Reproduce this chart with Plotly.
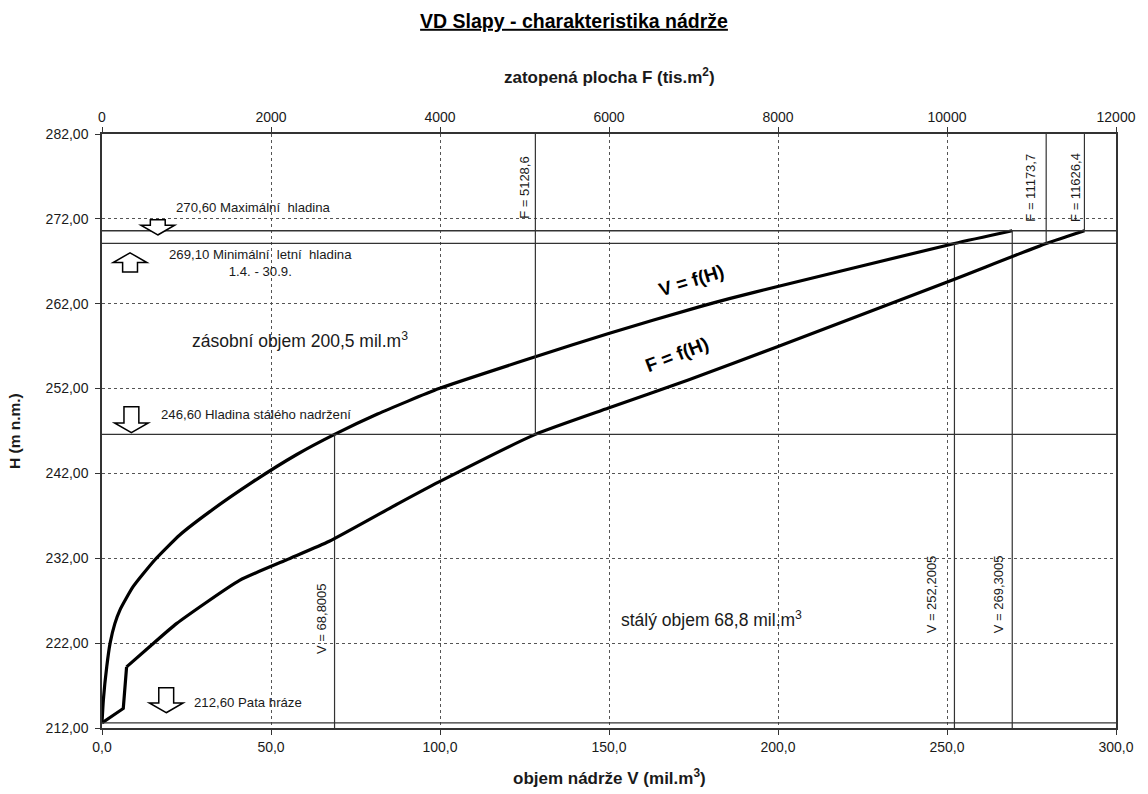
import plotly.graph_objects as go

# ---------------- data ----------------
H_range = [212, 282]
V_range = [0, 300]
F_range = [0, 12000]

# V = f(H): storage volume (mil. m3) vs level H (m n.m.)
V_H = [212.6, 215.3, 219.2, 222.0, 224.3, 225.9, 228.65, 231.8, 234.75, 237.5,
       241.0, 244.2, 246.6, 249.0, 252.0, 255.75, 258.5, 261.6, 262.6, 264.0, 269.1, 270.6]
V_val = [0.0, 0.4, 1.4, 2.4, 3.8, 5.3, 9.2, 15.6, 23.0, 31.9,
         44.6, 57.5, 68.8, 81.5, 99.7, 128.2, 149.9, 176.4, 185.6, 199.6, 252.2, 269.3]

# F = f(H): flooded area (tis. m2) vs level H
F_H = [212.6, 214.3, 219.2, 221.6, 224.3, 229.4, 231.8, 234.0, 238.5, 241.0,
       246.6, 249.7, 253.0, 256.9, 264.8, 269.1, 270.6]
F_val = [0, 252, 291, 566, 881, 1628, 2180, 2690, 3516, 3988,
         5128.6, 5994, 6938, 7985, 10065, 11173.7, 11626.4]

# characteristic levels
levels_H = [270.6, 269.1, 246.6, 212.6]
level_labels = ["270,60 Maximální  hladina",
                "269,10 Minimální  letní  hladina<br>1.4. - 30.9.",
                "246,60 Hladina stálého nadržení",
                "212,60 Pata hráze"]

# marker lines
F_marks = [5128.6, 11173.7, 11626.4]
F_mark_H = [246.6, 269.1, 270.6]
F_mark_labels = ["F = 5128,6", "F = 11173,7", "F = 11626,4"]
V_marks = [68.8005, 252.2005, 269.3005]
V_mark_H = [246.6, 269.1, 270.6]
V_mark_labels = ["V = 68,8005", "V = 252,2005", "V = 269,3005"]

vol_texts = ["zásobní objem 200,5 mil.m<sup>3</sup>", "stálý objem 68,8 mil.m<sup>3</sup>"]

# ---------------- styles / positions ----------------
FONT = "Arial, Liberation Sans, sans-serif"
INK = "#1a1a1a"
LINE = "#333333"
CURVE = dict(color="black", width=3.2)

fig = go.Figure()

# V curve (smooth)
fig.add_trace(go.Scatter(x=V_val, y=V_H, mode="lines", xaxis="x", yaxis="y",
                         line=dict(shape="spline", smoothing=0.5, **CURVE), hoverinfo="skip"))
# F curve: sharp-cornered foot (first 3 points) + smooth upper part
KINK = 2
fig.add_trace(go.Scatter(x=F_val[:KINK + 1], y=F_H[:KINK + 1], mode="lines", xaxis="x2", yaxis="y",
                         line=dict(shape="linear", **CURVE), hoverinfo="skip"))
fig.add_trace(go.Scatter(x=F_val[KINK:], y=F_H[KINK:], mode="lines", xaxis="x2", yaxis="y",
                         line=dict(shape="spline", smoothing=0.5, **CURVE), hoverinfo="skip"))

# vertical marker lines
for f, h in zip(F_marks, F_mark_H):
    fig.add_trace(go.Scatter(x=[f, f], y=[h, H_range[1]], mode="lines", xaxis="x2", yaxis="y",
                             line=dict(color=LINE, width=1.2), hoverinfo="skip"))
for v, h in zip(V_marks, V_mark_H):
    fig.add_trace(go.Scatter(x=[v, v], y=[H_range[0], h], mode="lines", xaxis="x", yaxis="y",
                             line=dict(color=LINE, width=1.2), hoverinfo="skip"))

shapes = []
for h in levels_H:
    shapes.append(dict(type="line", xref="x domain", x0=0, x1=1, yref="y", y0=h, y1=h,
                       line=dict(color=LINE, width=1.3), layer="above"))

# hollow block arrows (x centre in V units, tip H, total length in H, direction)
arrow_specs = [(16.5, 270.1, 1.8, -1), (8.3, 268.0, 2.25, 1), (8.7, 246.8, 3.05, -1), (19.0, 213.8, 2.95, -1)]
HEAD_HALF = 5.0
SHAFT_HALF = 2.2
HEAD_LEN = 1.15
for xc, tip, ln, d in arrow_specs:
    base = tip - d * HEAD_LEN
    tail = tip - d * ln
    pts = [(xc, tip), (xc + HEAD_HALF, base), (xc + SHAFT_HALF, base), (xc + SHAFT_HALF, tail),
           (xc - SHAFT_HALF, tail), (xc - SHAFT_HALF, base), (xc - HEAD_HALF, base)]
    path = "M " + " L ".join(f"{x},{y}" for x, y in pts) + " Z"
    shapes.append(dict(type="path", xref="x", yref="y", path=path,
                       line=dict(color="black", width=1.5), fillcolor="white", layer="above"))

annotations = []
lvl_pos = [(21.2, 273.3, "left"), (46.9, 266.8, "center"), (16.8, 248.9, "left"), (26.5, 214.95, "left")]
for (x, y, al), t in zip(lvl_pos, level_labels):
    annotations.append(dict(x=x, y=y, xref="x", yref="y", text=t, showarrow=False,
                            xanchor=al, yanchor="middle", align="center",
                            font=dict(family=FONT, size=13.2, color=INK)))
F_off = [-11, -16, -9]
for f, t, dx in zip(F_marks, F_mark_labels, F_off):
    annotations.append(dict(x=f, y=275.7, xref="x2", yref="y", text=t, showarrow=False,
                            textangle=-90, xshift=dx, xanchor="center", yanchor="middle",
                            font=dict(family=FONT, size=13, color=INK)))
V_off = [-13, -23, -13]
V_lab_y = [224.8, 227.8, 227.8]
for v, t, dx, y in zip(V_marks, V_mark_labels, V_off, V_lab_y):
    annotations.append(dict(x=v, y=y, xref="x", yref="y", text=t, showarrow=False,
                            textangle=-90, xshift=dx, xanchor="center", yanchor="middle",
                            font=dict(family=FONT, size=13, color=INK)))
annotations.append(dict(x=26.0, y=257.7, xref="x", yref="y", text=vol_texts[0], showarrow=False,
                        xanchor="left", yanchor="middle", font=dict(family=FONT, size=17.5, color=INK)))
annotations.append(dict(x=153.0, y=224.8, xref="x", yref="y", text=vol_texts[1], showarrow=False,
                        xanchor="left", yanchor="middle", font=dict(family=FONT, size=17.5, color=INK)))
annotations.append(dict(x=174.3, y=264.7, xref="x", yref="y", text="<b>V = f(H)</b>", showarrow=False,
                        textangle=-17, font=dict(family=FONT, size=19, color="black")))
annotations.append(dict(x=170.2, y=256.0, xref="x", yref="y", text="<b>F = f(H)</b>", showarrow=False,
                        textangle=-21, font=dict(family=FONT, size=19, color="black")))
annotations.append(dict(x=0.5, y=1, xref="paper", yref="paper", yshift=58, yanchor="middle",
                        text="<b>zatopená plocha F (tis.m<sup>2</sup>)</b>", showarrow=False,
                        font=dict(family=FONT, size=17, color=INK)))
annotations.append(dict(x=0.5, y=0, xref="paper", yref="paper", yshift=-49, yanchor="middle",
                        text="<b>objem nádrže V (mil.m<sup>3</sup>)</b>", showarrow=False,
                        font=dict(family=FONT, size=17, color=INK)))
annotations.append(dict(x=0, y=0.5, xref="paper", yref="paper", xshift=-88, xanchor="center",
                        text="<b>H (m n.m.)</b>", showarrow=False, textangle=-90,
                        font=dict(family=FONT, size=15.5, color=INK)))

axis_common = dict(showline=True, linecolor=LINE, linewidth=1.5, ticks="outside", ticklen=5,
                   tickcolor=LINE, zeroline=False,
                   tickfont=dict(family=FONT, size=14, color=INK))

fig.update_layout(
    width=1148, height=794,
    margin=dict(l=102, r=29, t=134, b=66),
    paper_bgcolor="white", plot_bgcolor="white",
    showlegend=False,
    separators=", ",
    title=dict(text='<span style="text-decoration:underline"><b>VD Slapy - charakteristika nádrže</b></span>',
               x=0.5, xanchor="center", y=1 - 21 / 794, yanchor="middle", yref="container",
               font=dict(family=FONT, size=19.5, color="black")),
    xaxis=dict(range=V_range, dtick=50, tick0=0, tickformat=".1f", mirror=False,
               showgrid=True, gridcolor="#555555", gridwidth=1, griddash="dot", **axis_common),
    xaxis2=dict(range=F_range, dtick=2000, tick0=0, tickformat="d", overlaying="x", side="top",
                showgrid=False, **axis_common),
    yaxis=dict(range=H_range, dtick=10, tick0=212, tickformat=".2f", mirror=True, ticklabelstandoff=4,
               showgrid=True, gridcolor="#555555", gridwidth=1, griddash="dot", **axis_common),
    shapes=shapes,
    annotations=annotations,
)

fig.write_html("out.html")
